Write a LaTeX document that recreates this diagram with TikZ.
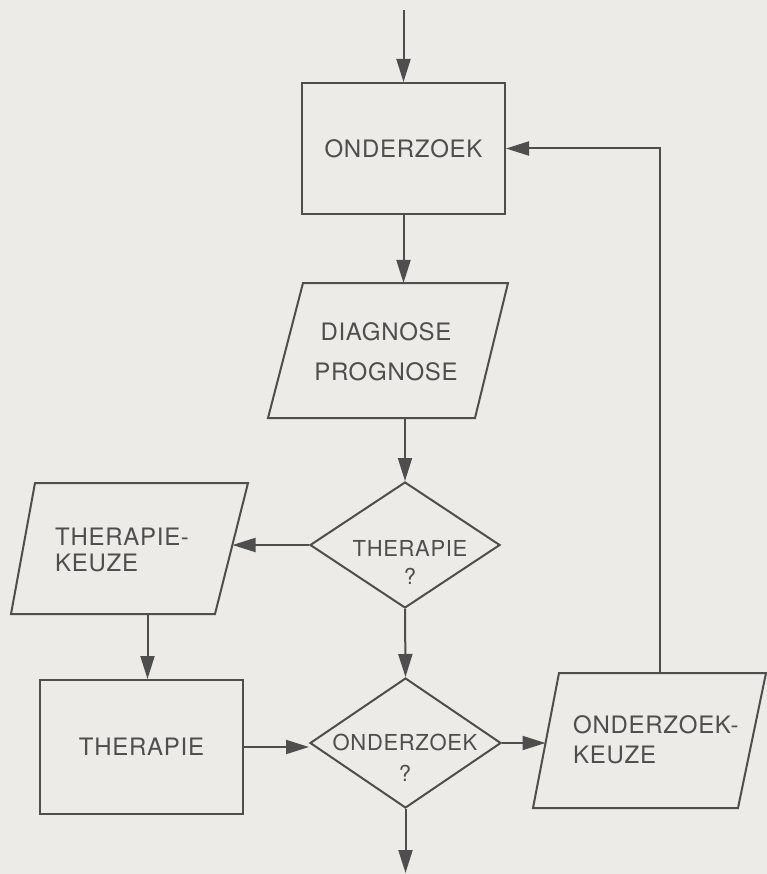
\documentclass[tikz,border=0pt]{standalone}
\usepackage{fontspec}
\setmainfont[LetterSpace=3]{TeX Gyre Heros}
\usetikzlibrary{shapes.geometric, arrows.meta}
\definecolor{paper}{RGB}{237,235,231}
\definecolor{ink}{RGB}{78,78,78}
\begin{document}
\begin{tikzpicture}[x=1pt, y=-1pt,
  line/.style={draw=ink, line width=2pt, line join=miter},
  flow/.style={draw=ink, line width=2pt, -{Triangle[length=23pt,width=14pt]}},
  procbox/.style={line, rectangle, inner sep=0pt, text=ink, font=\fontsize{24}{29}\selectfont},
  decision/.style={line, diamond, inner sep=0pt},
  lbl/.style={text=ink, inner sep=0pt}
]
% paper
\fill[paper] (0,0) rectangle (767,874);
\useasboundingbox (0,0) rectangle (767,874);

% process boxes
\node[procbox, minimum width=203pt, minimum height=131pt] (ond) at (403.5,148.5) {ONDERZOEK};
\node[procbox, minimum width=203pt, minimum height=134pt] (ther) at (141.5,747) {THERAPIE};

% decisions
\node[decision, minimum width=190pt, minimum height=126pt] (d1) at (405,545) {};
\node[lbl, align=center, font=\fontsize{22}{28}\selectfont] (d1t) at (410,562) {THERAPIE\\?};
\node[decision, minimum width=191pt, minimum height=130pt] (d2) at (405.5,743) {};
\node[lbl, align=center, font=\fontsize{22}{31}\selectfont] (d2t) at (405,758) {ONDERZOEK\\?};

% parallelograms (input/output)
\draw[line] (303,283) -- (508,283) -- (475,418) -- (268,418) -- cycle;
\coordinate (diag-n) at (403.5,283);
\coordinate (diag-s) at (405,418);
\node[lbl, align=center, font=\fontsize{24}{40}\selectfont] (diagt) at (386,352) {DIAGNOSE\\PROGNOSE};

\draw[line] (35,483) -- (248,483) -- (215,614) -- (11,614) -- cycle;
\coordinate (tk-e) at (232.5,545);
\coordinate (tk-s) at (147.5,614);
\node[lbl, align=left, anchor=west, font=\fontsize{24}{26}\selectfont] (tkt) at (55,550) {THERAPIE-\\KEUZE};

\draw[line] (559,673) -- (766,673) -- (738,808) -- (533,808) -- cycle;
\coordinate (okk-w) at (545.5,743);
\coordinate (okk-n) at (660,673);
\node[lbl, align=left, anchor=west, font=\fontsize{24}{30}\selectfont] (okkt) at (573,740) {ONDERZOEK-\\KEUZE};

% free ends and bend of the return line
\coordinate (start) at (403.5,10);
\coordinate (finish) at (405.5,873);
\coordinate (fb) at (660,148.5);

% connectors
\draw[flow] (start) -- (ond.north);
\draw[flow] (ond.south) -- (diag-n);
\draw[flow] (diag-s) -- (d1.north);
\draw[flow] (d1.west) -- (tk-e);
\draw[flow] (tk-s) -- (tk-s |- ther.north);
\draw[flow] (d1.south) -- (d2.north);
\draw[flow] (ther.east) -- (ther.east -| d2.west);
\draw[flow] (d2.east) -- (okk-w);
\draw[flow] (d2.south) -- (finish);
\draw[flow] (okk-n) -- (fb) -- (ond.east);
\end{tikzpicture}
\end{document}
